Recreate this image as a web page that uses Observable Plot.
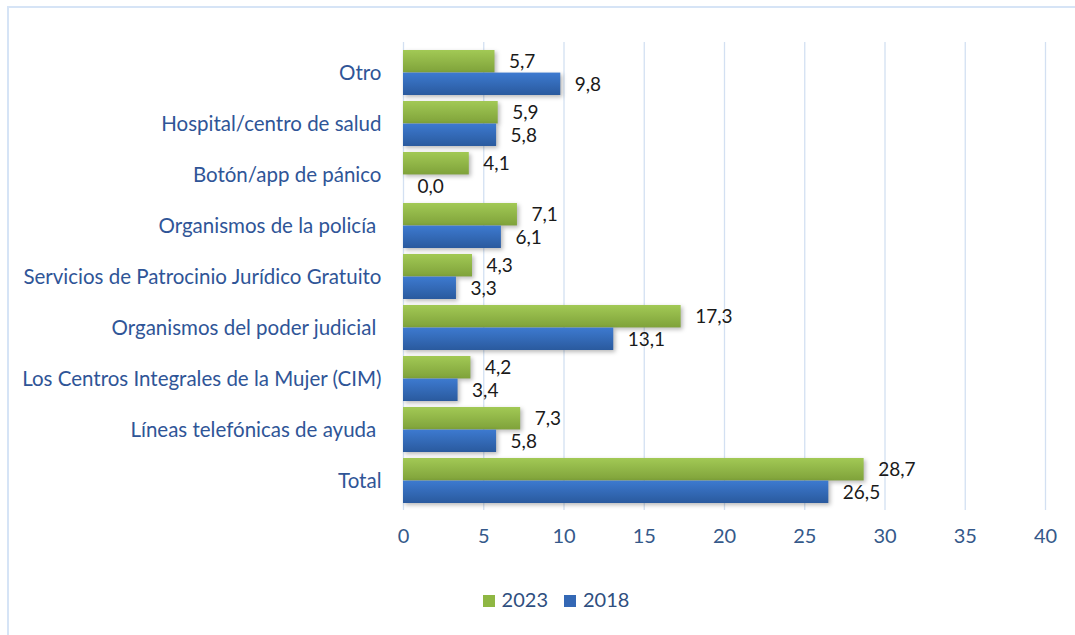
<!DOCTYPE html>
<html>
<head>
<meta charset="utf-8">
<script src="https://cdn.jsdelivr.net/npm/d3@7"></script>
<script src="https://cdn.jsdelivr.net/npm/@observablehq/plot@0.6"></script>
<style>
  html, body { margin: 0; padding: 0; background: #fff; }
  body { width: 1075px; height: 635px; position: relative; overflow: hidden; font-family: Lato, "Open Sans", sans-serif; }
  #frame { position: absolute; left: 7px; top: 6px; width: 1100px; height: 700px; border-left: 2px solid #d6e4f6; border-top: 2px solid #d6e4f6; }
  #chart { position: absolute; left: 0; top: 0; }
  #legend { position: absolute; top: 587px; left: 0; width: 1112px; text-align: center; font-size: 20px; color: #2f4f7f; }
  #legend span.sw { display: inline-block; width: 12px; height: 12px; margin-right: 7px; vertical-align: 0px; }
  #legend span.it { margin: 0 8px; }
</style>
</head>
<body>
<div id="frame"></div>
<div id="chart"></div>
<div id="legend"></div>
<script>
const categories = [
  "Otro",
  "Hospital/centro de salud",
  "Botón/app de pánico",
  "Organismos de la policía ",
  "Servicios de Patrocinio Jurídico Gratuito",
  "Organismos del poder judicial ",
  "Los Centros Integrales de la Mujer (CIM)",
  "Líneas telefónicas de ayuda ",
  "Total"
];
const values2023 = [5.7, 5.9, 4.1, 7.1, 4.3, 17.3, 4.2, 7.3, 28.7];
const values2018 = [9.8, 5.8, 0.0, 6.1, 3.3, 13.1, 3.4, 5.8, 26.5];
const series = ["2023", "2018"];
const seriesColors = ["#8fb743", "#3468b5"];
const xTicks = [0, 5, 10, 15, 20, 25, 30, 35, 40];

const data2023 = categories.map((c, i) => ({category: c, value: values2023[i]}));
const data2018 = categories.map((c, i) => ({category: c, value: values2018[i]}));

const W = 1075, H = 560, mTop = 42, mBottom = 50, pad = 0.12;
const step = (H - mTop - mBottom) / (categories.length + pad);
const bw = step * (1 - pad);
const half = bw / 2;
const fmt = d => d3.format(".1f")(d).replace(".", ",");

const chart = Plot.plot({
  width: W,
  height: H,
  marginLeft: 403,
  marginRight: 30,
  marginTop: mTop,
  marginBottom: mBottom,
  style: {fontFamily: "Lato, 'Open Sans', sans-serif", fontSize: "17px", background: "transparent"},
  x: {domain: [0, 40], ticks: xTicks, tickFormat: d => String(d), label: null, tickSize: 0, tickPadding: 18},
  y: {domain: categories, padding: pad, label: null, tickSize: 0, tickPadding: 22},
  marks: [
    Plot.ruleX(xTicks, {stroke: "#d3e0f2", strokeWidth: 1.3}),
    Plot.barX(data2023, {x: "value", y: "category", fill: "url(#gGreen)", insetBottom: half, className: "bars"}),
    Plot.barX(data2018, {x: "value", y: "category", fill: "url(#gBlue)", insetTop: half, className: "bars"}),
    Plot.text(data2023, {x: "value", y: "category", text: d => fmt(d.value), dx: 14, dy: -half / 2, textAnchor: "start", fill: "#1a1a1a", fontSize: 19}),
    Plot.text(data2018, {x: "value", y: "category", text: d => fmt(d.value), dx: 14, dy: half / 2 + 1, textAnchor: "start", fill: "#1a1a1a", fontSize: 19}),
    Plot.axisX({ticks: xTicks, tickSize: 0, tickPadding: 18, tickFormat: d => String(d), fill: "#35598a", fontSize: 20, label: null}),
    Plot.axisY({tickSize: 0, tickPadding: 22, fill: "#2f5597", fontSize: 20.5, label: null})
  ]
});

// gradients and shadow
const svg = d3.select(chart);
const defs = svg.insert("defs", ":first-child");
function grad(id, top, bottom) {
  const g = defs.append("linearGradient").attr("id", id).attr("x1", 0).attr("y1", 0).attr("x2", 0).attr("y2", 1);
  g.append("stop").attr("offset", "0%").attr("stop-color", top);
  g.append("stop").attr("offset", "100%").attr("stop-color", bottom);
}
grad("gGreen", "#a2c955", "#7fa23a");
grad("gBlue", "#3d7ad0", "#2a5a9e");
svg.selectAll(".bars").style("filter", "drop-shadow(2px 2px 2px rgba(0,0,0,0.28))");
svg.selectAll("text").style("white-space", "pre");

document.getElementById("chart").appendChild(chart);

const legend = document.getElementById("legend");
series.forEach((s, i) => {
  const it = document.createElement("span");
  it.className = "it";
  const sw = document.createElement("span");
  sw.className = "sw";
  sw.style.background = seriesColors[i];
  it.appendChild(sw);
  it.appendChild(document.createTextNode(s));
  legend.appendChild(it);
});
</script>
</body>
</html>
